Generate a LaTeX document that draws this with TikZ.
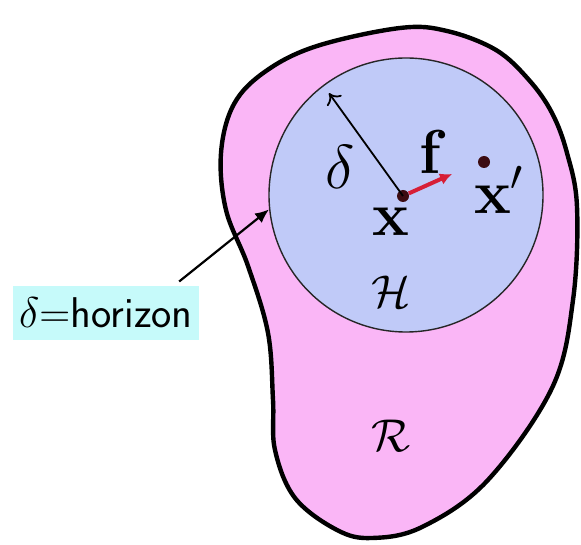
\RequirePackage{fix-cm}
\documentclass[tikz,border=0pt]{standalone}
\usepackage{amssymb}
\usetikzlibrary{arrows.meta}

\definecolor{regionpink}{RGB}{250,182,246}
\definecolor{horizonblue}{RGB}{192,202,248}
\definecolor{labelcyan}{RGB}{198,250,250}
\definecolor{forcered}{RGB}{215,30,55}
\definecolor{pointdark}{RGB}{60,12,18}

\begin{document}
\begin{tikzpicture}[x=0.5pt, y=-0.5pt,
  dot/.style={circle, fill=pointdark, inner sep=0pt, minimum size=6pt},
  mathlabel/.style={font=\fontsize{31}{37}\selectfont, inner sep=0pt},
  setlabel/.style={font=\fontsize{23}{28}\selectfont, inner sep=0pt}]
  \useasboundingbox (0,0) rectangle (581,544);
  % Region R: closed blob with a thick outline.
  \draw[line width=2.2pt, fill=regionpink] plot[smooth cycle, tension=0.6] coordinates {
    (400,28) (317,46) (266,71) (234,104) (221,153) (226,210) (248,266)
    (268,333) (273,400) (275,450) (295,498) (337,530) (372,538) (422,527)
    (487,481) (552,388) (573,300) (577,207) (567,153) (552,113) (529,80)
    (496,50) (447,31)};
  % Horizon disc H around x.
  \node[circle, draw=black!85, line width=0.7pt, fill=horizonblue,
        inner sep=0pt, minimum size=137pt] (hz) at (406,195) {};
  \node[setlabel] (hlab) at (391,292) {$\mathcal{H}$};
  \node[setlabel] (rlab) at (391,436) {$\mathcal{R}$};
  % Points x, x' and the force f.
  \node[dot] (x) at (403,196) {};
  \node[mathlabel] (xlab) at (391,222) {$\mathbf{x}$};
  \node[dot] (xp) at (484,162) {};
  \node[mathlabel] (xplab) at (499,190) {$\mathbf{x}'$};
  \coordinate (ftip) at (452,174);
  \draw[forcered, line width=2pt, -{Latex[length=6pt,width=6pt]}] (x) -- (ftip);
  \node[mathlabel] (flab) at (433,152) {$\mathbf{f}$};
  % Radius delta.
  \draw[line width=0.9pt, -{To[length=5pt,width=9pt]}, shorten >=5pt] (x.center) -- (hz.127);
  \node[mathlabel] (dlab) at (340,167) {$\delta$};
  % Label box and pointer to the rim.
  \node[fill=labelcyan, inner xsep=3pt, inner ysep=6pt,
        font=\fontsize{21.5}{26}\selectfont\sffamily] (lbl) at (106,313) {$\delta$=horizon};
  \draw[line width=1.1pt, -{Latex[length=7pt,width=6pt]}]
    ([xshift=-10pt,yshift=2pt]lbl.north east) -- (hz.186);
\end{tikzpicture}
\end{document}
